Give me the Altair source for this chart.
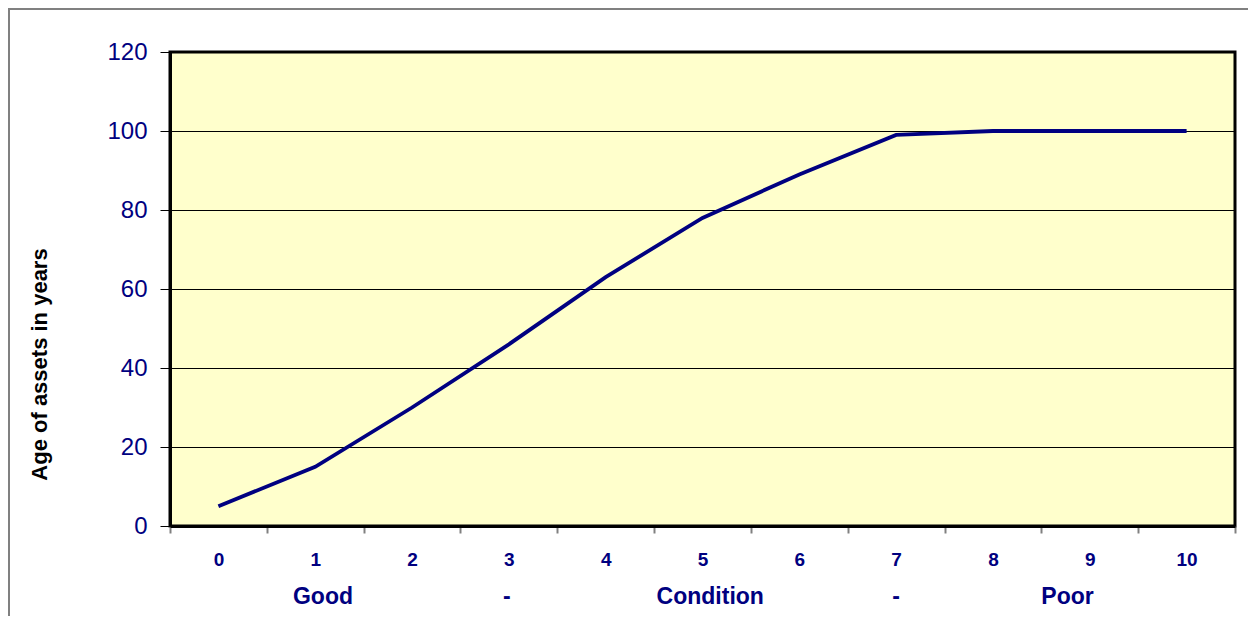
import altair as alt
import pandas as pd

# Data
condition = [0, 1, 2, 3, 4, 5, 6, 7, 8, 9, 10]
age_years = [5, 15, 30, 46, 63, 78, 89, 99, 100, 100, 100]

# second-row labels (positions, in condition units)
band_labels_x = [1.08, 2.98, 5.08, 7.0, 8.77]
band_labels = ["Good", "-", "Condition", "-", "Poor"]

y_ticks = [0, 20, 40, 60, 80, 100, 120]
x_axis_values = [i / 2 for i in range(-1, 22)]  # -0.5 .. 10.5

NAVY = "#000080"
FONT = "Liberation Sans"

df = pd.DataFrame({"x": condition, "age": age_years})
df_lab = pd.DataFrame({"x": band_labels_x, "lab": band_labels})

x_scale = alt.Scale(domain=[-0.5, 10.5], nice=False, zero=False)
x_axis = alt.Axis(
    values=x_axis_values,
    title=None,
    labelExpr="datum.value % 1 == 0 ? format(datum.value, 'd') : ''",
    labelOverlap=False,
    labelFlush=False,
    labelFont=FONT,
    labelFontSize=19,
    labelFontWeight="bold",
    labelColor=NAVY,
    labelBaseline="top",
    labelPadding=17,
    tickSize=7,
    tickWidth=2,
    tickColor="#808080",
    tickOpacity={"condition": {"test": "datum.value % 1 == 0", "value": 0}, "value": 1},
    domainColor="black",
    domainWidth=3,
    grid=False,
)

frame = alt.Chart(pd.DataFrame({"a": [0]})).mark_rect(
    fill=None, stroke="#808080", strokeWidth=2
).encode(
    x=alt.value(-161), x2=alt.value(1300), y=alt.value(-43), y2=alt.value(800)
)

line = alt.Chart(df).mark_line(color=NAVY, strokeWidth=3.8).encode(
    x=alt.X("x:Q", scale=x_scale, axis=x_axis),
    y=alt.Y(
        "age:Q",
        scale=alt.Scale(domain=[0, 120], nice=False),
        axis=alt.Axis(
            values=y_ticks,
            title="Age of assets in years",
            titleFont=FONT,
            titleFontSize=22,
            titleFontWeight="bold",
            titleColor="black",
            titleAngle=-90,
            titleX=-131,
            titleY=312,
            titleAlign="center",
            titleBaseline="middle",
            labelFont=FONT,
            labelFontSize=24,
            labelColor=NAVY,
            labelPadding=13,
            tickSize=10,
            tickColor="black",
            tickWidth=1,
            domainColor="black",
            domainWidth=3,
            grid=True,
            gridColor="black",
            gridWidth=1,
        ),
    ),
)

cond_text = alt.Chart(df_lab).mark_text(
    font=FONT, fontSize=23, fontWeight="bold", color=NAVY, baseline="alphabetic"
).encode(
    x=alt.X("x:Q", scale=x_scale, axis=x_axis),
    y=alt.value(552),
    text="lab:N",
)

chart = alt.layer(frame, line, cond_text).properties(
    width=1065,
    height=474,
    padding={"left": 162, "top": 44, "right": 13, "bottom": 90},
    autosize=alt.AutoSizeParams(type="none"),
    background="white",
).configure_view(
    fill="#FFFFCC", stroke="black", strokeWidth=3
)

chart.save("out.html", embed_options={"renderer": "svg", "actions": False})
